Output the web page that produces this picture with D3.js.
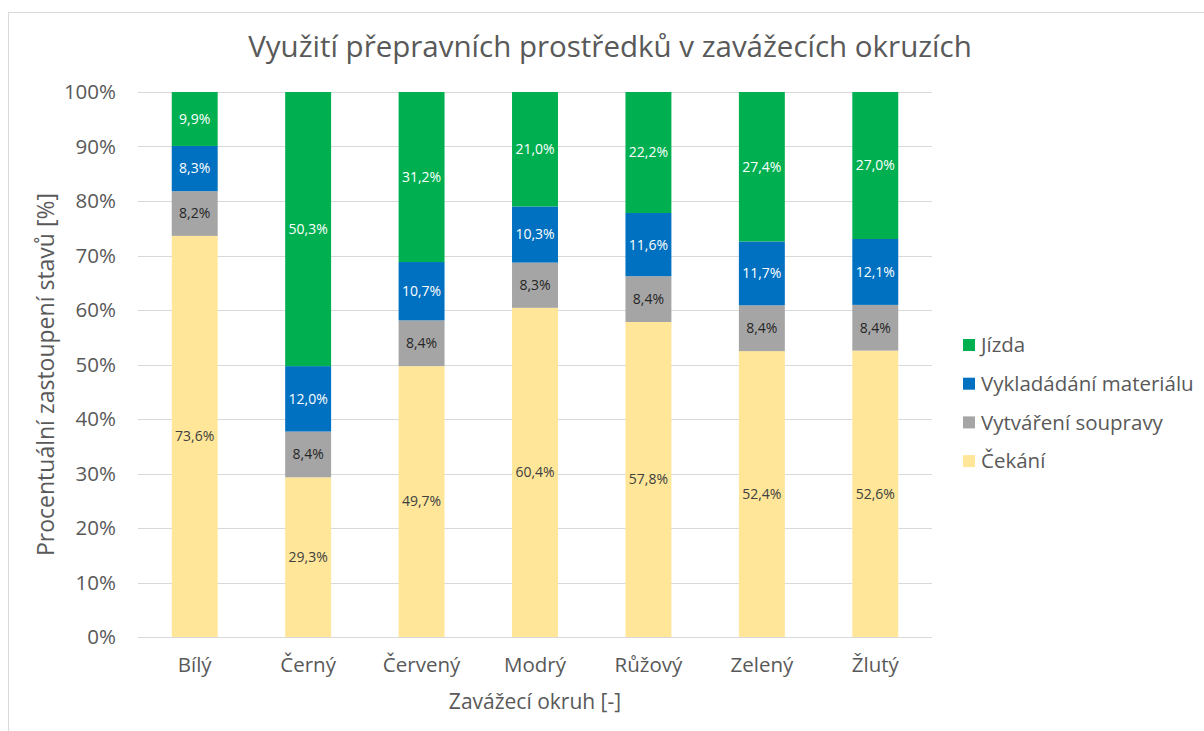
<!DOCTYPE html>
<html>
<head>
<meta charset="utf-8">
<script src="https://cdn.jsdelivr.net/npm/d3@7"></script>
<style>
  body { margin: 0; background: #fff; }
  text { font-family: "Open Sans", "Noto Sans", sans-serif; }
</style>
</head>
<body>
<div class="chart-wrapper"></div>
<script>
const categories = ['Bílý', 'Černý', 'Červený', 'Modrý', 'Růžový', 'Zelený', 'Žlutý'];
const cekani = [73.6, 29.3, 49.7, 60.4, 57.8, 52.4, 52.6];
const vytvareni = [8.2, 8.4, 8.4, 8.3, 8.4, 8.4, 8.4];
const vykladani = [8.3, 12.0, 10.7, 10.3, 11.6, 11.7, 12.1];
const jizda = [9.9, 50.3, 31.2, 21.0, 22.2, 27.4, 27.0];
const yTicks = [0, 0.1, 0.2, 0.3, 0.4, 0.5, 0.6, 0.7, 0.8, 0.9, 1];

function drawChart() {
    const dims = {
        width: 1204,
        height: 731,
        margin: { top: 92, right: 272, bottom: 94, left: 138 },
    };
    dims.boundedWidth = dims.width - dims.margin.left - dims.margin.right;
    dims.boundedHeight = dims.height - dims.margin.top - dims.margin.bottom;

    const series = [
        { name: 'Čekání', values: cekani, color: '#FFE699', text: '#404040' },
        { name: 'Vytváření soupravy', values: vytvareni, color: '#A5A5A5', text: '#262626' },
        { name: 'Vykladádání materiálu', values: vykladani, color: '#0070C0', text: '#ffffff' },
        { name: 'Jízda', values: jizda, color: '#00B050', text: '#ffffff' },
    ];

    const table = categories.map((c, i) => {
        const row = { cat: c };
        const total = d3.sum(series, s => s.values[i]);
        series.forEach(s => { row[s.name] = s.values[i] / total; });
        return row;
    });

    const stacked = d3.stack().keys(series.map(s => s.name))(table);

    const svg = d3.select('.chart-wrapper')
        .append('svg')
        .attr('width', dims.width)
        .attr('height', dims.height);

    // chart border
    svg.append('rect')
        .attr('x', 8.5).attr('y', 12.5)
        .attr('width', 1300).attr('height', 1000)
        .attr('fill', 'none')
        .attr('stroke', '#d9d9d9');

    svg.append('text')
        .attr('x', 610).attr('y', 57)
        .attr('text-anchor', 'middle')
        .attr('font-size', 29.5)
        .attr('fill', '#595959')
        .text('Využití přepravních prostředků v zavážecích okruzích');

    const bounds = svg.append('g')
        .attr('transform', `translate(${dims.margin.left}, ${dims.margin.top})`);

    const xScale = d3.scaleBand()
        .domain(categories)
        .range([0, dims.boundedWidth])
        .paddingInner(0.595)
        .paddingOuter(0.2975);

    const yScale = d3.scaleLinear()
        .domain([0, 1])
        .range([dims.boundedHeight, 0]);

    // gridlines
    bounds.append('g')
        .selectAll('line')
        .data(yTicks)
        .join('line')
        .attr('x1', 0).attr('x2', dims.boundedWidth)
        .attr('y1', d => Math.round(yScale(d)) + 0.5)
        .attr('y2', d => Math.round(yScale(d)) + 0.5)
        .attr('stroke', '#d9d9d9')
        .attr('stroke-width', 1);

    const yAxis = d3.axisLeft(yScale)
        .tickValues(yTicks)
        .tickFormat(d3.format('.0%'))
        .tickSize(0)
        .tickPadding(22);

    const yAxisG = bounds.append('g').call(yAxis);
    yAxisG.select('.domain').remove();
    yAxisG.selectAll('text')
        .attr('font-size', 20.5)
        .attr('fill', '#595959')
        .style('font-family', '"Open Sans", sans-serif');

    const xAxis = d3.axisBottom(xScale)
        .tickSize(0)
        .tickPadding(20);

    const xAxisG = bounds.append('g')
        .attr('transform', `translate(0, ${dims.boundedHeight})`)
        .call(xAxis);
    xAxisG.select('.domain').remove();
    xAxisG.selectAll('text')
        .attr('font-size', 20.5)
        .attr('fill', '#595959')
        .style('font-family', '"Open Sans", sans-serif');

    const layers = bounds.selectAll('.layer')
        .data(stacked)
        .join('g')
        .attr('class', 'layer');

    layers.each(function (layer, li) {
        const s = series[li];
        const g = d3.select(this);
        g.selectAll('rect')
            .data(layer)
            .join('rect')
            .attr('x', d => xScale(d.data.cat))
            .attr('width', xScale.bandwidth())
            .attr('y', d => yScale(d[1]))
            .attr('height', d => yScale(d[0]) - yScale(d[1]))
            .attr('fill', s.color);

        g.selectAll('text')
            .data(layer)
            .join('text')
            .attr('x', d => xScale(d.data.cat) + xScale.bandwidth() / 2)
            .attr('y', d => (yScale(d[0]) + yScale(d[1])) / 2)
            .attr('dy', '0.35em')
            .attr('text-anchor', 'middle')
            .attr('font-size', 14)
            .attr('fill', s.text)
            .text((d, i) => s.values[i].toFixed(1).replace('.', ',') + '%');
    });

    // axis titles
    svg.append('text')
        .attr('x', dims.margin.left + dims.boundedWidth / 2)
        .attr('y', 709)
        .attr('text-anchor', 'middle')
        .attr('font-size', 21)
        .attr('fill', '#595959')
        .text('Zavážecí okruh [-]');

    svg.append('text')
        .attr('transform', `translate(54, ${dims.margin.top + dims.boundedHeight / 2 + 10}) rotate(-90)`)
        .attr('text-anchor', 'middle')
        .attr('font-size', 23)
        .attr('fill', '#595959')
        .text('Procentuální zastoupení stavů [%]');

    // legend
    const legendSeries = series.slice().reverse();
    const legend = svg.append('g')
        .attr('transform', 'translate(963, 345)');

    const items = legend.selectAll('g')
        .data(legendSeries)
        .join('g')
        .attr('transform', (d, i) => `translate(0, ${i * 38.7})`);

    items.append('rect')
        .attr('x', 0).attr('y', -6)
        .attr('width', 12).attr('height', 12)
        .attr('fill', d => d.color);

    items.append('text')
        .attr('x', 18).attr('y', 0)
        .attr('dy', '0.35em')
        .attr('font-size', 20.5)
        .attr('fill', '#595959')
        .text(d => d.name);
}

drawChart();
</script>
</body>
</html>
